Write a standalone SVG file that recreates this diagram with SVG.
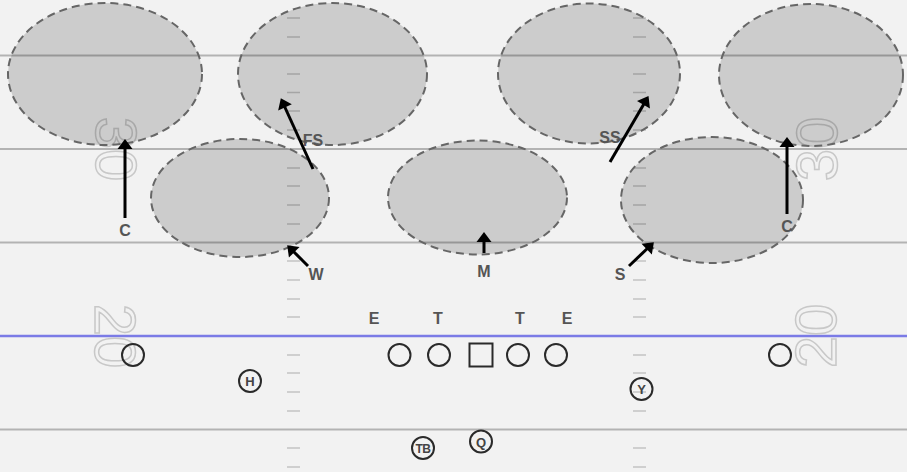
<svg xmlns="http://www.w3.org/2000/svg" width="907" height="472" viewBox="0 0 907 472">
<style>
.yl{stroke:#b3b3b3;stroke-width:2;fill:none}
.hash{stroke:#c4c4c4;stroke-width:1.5;fill:none}
.num{font-family:"Liberation Sans",Arial,sans-serif;font-size:58px;fill:none;stroke:#c8c8c8;stroke-width:1.5;text-anchor:middle}
.zone{fill:#000;fill-opacity:0.157;stroke:#666;stroke-width:2;stroke-dasharray:8 5}
.arr{stroke:#000;stroke-width:3;fill:none;marker-end:url(#ah)}
.lbl{font-family:"Liberation Sans",Arial,sans-serif;font-size:16px;font-weight:bold;fill:#555;text-anchor:middle}
.pl{fill:none;stroke:#2a2a2a;stroke-width:2}
.pt{font-family:"Liberation Sans",Arial,sans-serif;font-size:13px;font-weight:bold;fill:#444;text-anchor:middle}
</style>
<defs>
<marker id="ah" markerUnits="userSpaceOnUse" viewBox="-1 -8 12 16" refX="6" refY="0" markerWidth="12" markerHeight="16" orient="auto">
<path d="M0,-7.5 L10,0 L0,7.5 z" fill="#000"/>
</marker>
</defs>
<rect width="907" height="472" fill="#f2f2f2"/>
<g id="field">
<path class="yl" d="M0,55.5H907M0,149H907M0,242.5H907M0,429.5H907"/>
<path d="M0,336H907" stroke="#7b7be6" stroke-width="2.5"/>
<path class="hash" d="M287,18h13M287,37h13M287,74h13M287,92.5h13M287,111h13M287,130h13M287,168h13M287,186h13M287,205h13M287,224h13M287,261h13M287,280h13M287,299h13M287,317h13M287,355h13M287,373h13M287,392h13M287,411h13M287,448h13M287,467h13
M633,18h13M633,37h13M633,74h13M633,92.5h13M633,111h13M633,130h13M633,168h13M633,186h13M633,205h13M633,224h13M633,261h13M633,280h13M633,299h13M633,317h13M633,355h13M633,373h13M633,392h13M633,411h13M633,448h13M633,467h13"/>
<text class="num" transform="translate(117,149) rotate(90)" x="0" y="21">30</text>
<text class="num" transform="translate(116,336) rotate(90)" x="0" y="21">20</text>
<text class="num" transform="translate(816,149) rotate(-90)" x="0" y="21">30</text>
<text class="num" transform="translate(815,336) rotate(-90)" x="0" y="21">20</text>
</g>
<g id="zones">
<ellipse id="zone-c-left" class="zone" cx="105" cy="74" rx="97" ry="71"/>
<ellipse id="zone-fs" class="zone" cx="332.5" cy="74" rx="94.5" ry="71"/>
<ellipse id="zone-ss" class="zone" cx="589" cy="73.5" rx="91" ry="70"/>
<ellipse id="zone-c-right" class="zone" cx="811" cy="75" rx="92" ry="71"/>
<ellipse id="zone-w" class="zone" cx="240" cy="198" rx="89" ry="59"/>
<ellipse id="zone-m" class="zone" cx="477.5" cy="197.5" rx="89.5" ry="57"/>
<ellipse id="zone-s" class="zone" cx="712" cy="200" rx="91" ry="63"/>
</g>
<g id="connectors">
<line class="arr" x1="125" y1="218" x2="125" y2="143"/>
<line class="arr" x1="313" y1="169" x2="282.5" y2="102"/>
<line class="arr" x1="308" y1="266" x2="290" y2="248"/>
<line class="arr" x1="484" y1="253" x2="484" y2="236"/>
<line class="arr" x1="629" y1="266" x2="651" y2="245"/>
<line class="arr" x1="610" y1="162" x2="646.5" y2="99.5"/>
<line class="arr" x1="787" y1="214" x2="787" y2="141"/>
</g>
<g id="defender-labels">
<text class="lbl" x="125" y="236">C</text>
<text class="lbl" x="313" y="146">FS</text>
<text class="lbl" x="316" y="280">W</text>
<text class="lbl" x="484" y="277">M</text>
<text class="lbl" x="620" y="280">S</text>
<text class="lbl" x="610" y="143">SS</text>
<text class="lbl" x="787" y="232">C</text>
<text class="lbl" x="374" y="324">E</text>
<text class="lbl" x="438" y="324">T</text>
<text class="lbl" x="520" y="324">T</text>
<text class="lbl" x="567" y="324">E</text>
</g>
<g id="offense">
<g id="wr-left"><circle class="pl" cx="133" cy="355" r="11"/></g>
<g id="wr-right"><circle class="pl" cx="780" cy="355" r="11"/></g>
<g id="lt"><circle class="pl" cx="399.5" cy="355" r="11"/></g>
<g id="lg"><circle class="pl" cx="439" cy="355" r="11"/></g>
<g id="center"><rect class="pl" x="469.5" y="343.5" width="23" height="23"/></g>
<g id="rg"><circle class="pl" cx="518" cy="355" r="11"/></g>
<g id="rt"><circle class="pl" cx="556" cy="355" r="11"/></g>
<g id="h"><circle class="pl" cx="250" cy="381" r="11"/><text class="pt" x="250" y="386">H</text></g>
<g id="y"><circle class="pl" cx="641.5" cy="389" r="11"/><text class="pt" x="641.5" y="394">Y</text></g>
<g id="tb"><circle class="pl" cx="423" cy="448" r="11"/><text class="pt" x="423" y="453" style="font-size:12px;letter-spacing:-0.5px">TB</text></g>
<g id="q"><circle class="pl" cx="481" cy="441.5" r="11"/><text class="pt" x="481" y="446.5">Q</text></g>
</g>
</svg>
